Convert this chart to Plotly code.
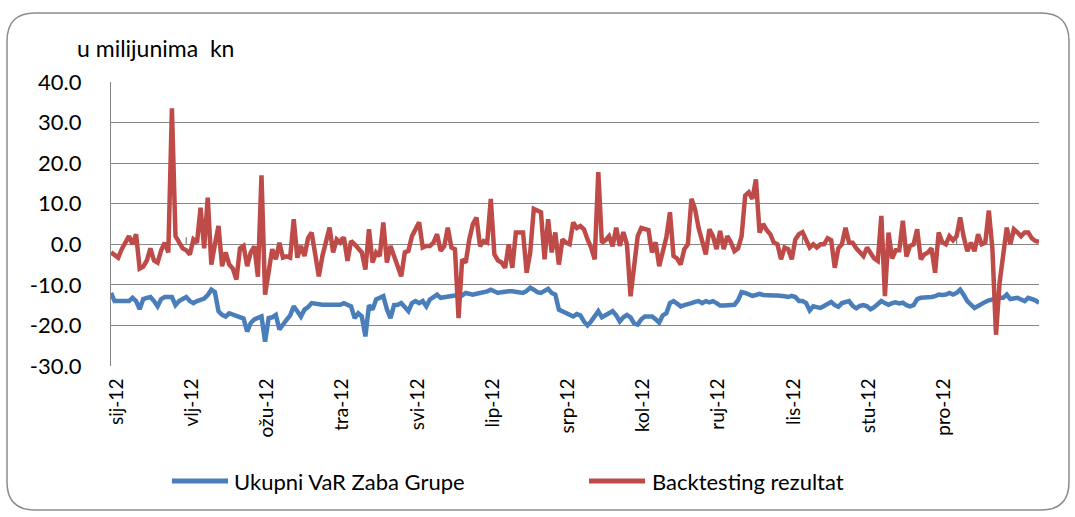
import plotly.graph_objects as go

# ---------------- data ----------------
month_labels = ["sij-12", "vlj-12", "ožu-12", "tra-12", "svi-12", "lip-12",
                "srp-12", "kol-12", "ruj-12", "lis-12", "stu-12", "pro-12"]
label_step = 21  # one month label every 21 trading days

y_tick_values = [40, 30, 20, 10, 0, -10, -20, -30]
y_tick_labels = ["40.0", "30.0", "20.0", "10.0", "0.0", "-10.0", "-20.0", "-30.0"]

var_name = "Ukupni VaR Zaba Grupe"
bt_name = "Backtesting rezultat"

var_values = [
    -12, -14, -14, -14, -14, -14, -13.2, -14, -16, -13.5, -13.2, -13, -14, -15.3, -13.5, -13, -13, -13, -15, -14,
    -13.5, -13, -14, -14.5, -14, -13.6, -13.4, -12.5, -11.2, -11.8, -16.5, -17.4, -17.8, -17, -17.4, -17.8, -18.2,
    -18.3, -21.5, -19.4, -18.5, -18.2, -17.8, -24,
    -18.2, -18, -17.4, -21, -20, -18.6, -17.5, -15.3, -16.5, -17.8, -16.1, -15.5, -14.5, -14.7, -14.9, -14.9, -14.9,
    -14.9, -14.9, -14.9, -14.9, -14.5, -14.8, -15.3, -18.2, -17, -17.8, -22.7, -15, -16.1, -13.6, -13.2, -12.8, -16,
    -18.2, -15, -14.9, -14.5, -15.5, -16.5, -14.5, -14, -14.5,
    -14, -15.3, -13.6, -13, -12.4, -13.2, -13, -12.8, -12.8, -12.6, -12.6, -12.6, -12, -12.2, -12.4, -12.2, -12, -12,
    -11.6, -11.2, -11.5, -12, -11.8, -11.6, -11.6, -11.6, -11.8, -12, -12, -11.5, -10.7, -11.2, -11.8, -12, -11.5,
    -11, -12, -12.4, -16.1, -16.5, -16.9, -17.2, -17.8,
    -17.2, -17.5, -19, -20, -19, -17.5, -16.5, -18, -17.5, -17, -16.5, -17.5, -19, -18, -17.4, -18, -19.5, -19.8,
    -18.5, -17.8, -17.8, -17.8, -18.5, -19.3, -17.5, -17, -14.5, -14, -14.6, -15.3, -15, -14.6, -14.5, -14.2, -14,
    -14.5, -14, -14.3, -14, -14.5, -15.1, -15.1, -15.1,
    -15, -14.9, -13.8, -11.8, -12, -12.4, -12.7, -12.5, -12.2, -12.5, -12.6, -12.6, -12.6, -12.6, -12.6, -12.8, -13,
    -12.7, -13, -14, -14, -14.5, -16.3, -15.3, -15.5, -15.7, -15.2, -14.6, -14.2, -15, -15.4, -14.5, -14.3, -14,
    -15.2, -15.8, -15.2, -15, -15.3, -16, -15.5, -14.9, -14,
    -14.5, -14.9, -14.5, -14.3, -14.6, -14.4, -15, -15.3, -15, -13.5, -13.2, -13.2, -13.2, -13, -12.8, -12.4, -12.5,
    -12.4, -12, -12.4, -12, -11.2, -12.5, -14, -14.9, -15.7, -15.2, -14.6, -14.2, -13.8, -13.6, -13.2, -13.2, -13.2,
    -12.4, -13.5, -13.3, -13.2, -13.6, -14, -13.2, -13.4, -13.8, -14.5,
]

bt_values = [
    -2, -2.5, -3.3, -1.2, 0.5, 2, 0, 2.5, -6, -5.5, -4, -1, -4, -4.5, -1.5, 0.4, -2, 33.5, 2, 0.5, -1, -1.5, -2.5,
    1.2, 0.4, 9, -1, 11.5, -5, 0, 4.5, -5.4, -2, -5, -6, -8.7, -1, -0.4, -5.4, -2, -0.5, -8, 17, -12.4,
    -6.2, -1.2, -3.7, 0.4, -3.3, -3, -3.3, 6.2, -3.3, -0.4, -2.9, 1.5, 2.9, -2, -7.9, -2.9, 0.4, 4.1, -2, 1.2, 0.4,
    1.7, -4.1, 0.8, 0, -1.2, -2, -6.2, 3.7, -4.5, -2, -2.9, 5.4, -4.5, -0.4, -2.9, -5.4, -7.9, -2, -1.6, 2, 3.5, 5.4,
    -0.8, -0.4, -0.4, 0.4, 2.5, -1.6, -0.5, 4.1, -0.8, -1.2, -18.2, -3.7, -4.5, 1.2, 5, 6.6, -0.5, 0.8, 0.4, 11.2,
    -2.5, -4, -4.5, -5.8, 0, -5.8, 2.9, 2.9, 2.9, -7, -2, 8.7, 8.3, 7.9, -3.7, 6.2, -2, 2.9, -5, 1.2, 0.4, 0, 5.4,
    4, 4.5, 3.7, 1.2, -0.8, -3.7, 17.8, 0.4, 1, 2, -0.5, 4.1, -0.4, 3, 0, -12.8, -5.4, 2, 4, 3.8, 3.5, -2, 0.5, -5.4,
    -1.2, 1.7, 7.9, -2.9, -3.5, -5, -1.2, 0, 11.2, 8.7, 4, 1.2, -2.5, 3.7, 2, -1.2, 3.3, -1.2, 2,
    0.5, -1.7, -1, 2, 12, 12.8, 11.2, 16, 2.9, 5, 3.5, 2.5, 0.4, 0, -3.7, -0.8, -1.2, -3.7, 1.2, 2.5, 3, 1.2, -0.8,
    0, -0.8, 0, 0, 1.5, 1, -5.8, -1, 0, 4.1, 0.4, 0.4, -1, -2, -2.9, -0.8, -2.3, -3.5, -4.1, 7,
    -12.8, 2.9, -3.5, -1.5, -1.5, 5.8, -3, -0.4, 0, 3.7, -3.7, -2.5, -2, -1, -7, 2.9, 0.5, 0, 2, 1, 2, 6.6, 1.7,
    -1.7, 0.4, -1.7, 2.5, 0, 0.4, 8.3, -1.2, -22.3, -9.5, -2, 4.1, 0, 3.7, 2.9, 2, 2.9, 2.9, 1.5, 0.8, 0.6,
]

# ---------------- styling ----------------
BLUE = "#4A7EBB"
RED = "#BE4B48"
GRID = "#868686"
FONT = "Lato"
W, H = 1075, 517
L, R, T, B = 111, 36, 82, 151
PW, PH = W - L - R, H - T - B

def px(xp):
    return (xp - L) / PW

def py(yp):
    return (H - B - yp) / PH

n = len(bt_values)
x_idx = list(range(n))
label_offset = 1.5
tick_pos = [label_offset + k * label_step for k in range(len(month_labels))]
zero_axis_ticks = list(range(label_step, n, 43))

fig = go.Figure()
fig.add_trace(go.Scatter(x=x_idx, y=var_values, mode="lines", name=var_name,
                         line=dict(color=BLUE, width=4.5), showlegend=False))
fig.add_trace(go.Scatter(x=x_idx, y=bt_values, mode="lines", name=bt_name,
                         line=dict(color=RED, width=4.5), showlegend=False))

shapes = []
# rounded outer chart border
l0, r0, t0, b0, rad = 7, 1069, 13, 510, 28
path = (f"M {px(l0+rad)},{py(t0)} L {px(r0-rad)},{py(t0)} Q {px(r0)},{py(t0)} {px(r0)},{py(t0+rad)} "
        f"L {px(r0)},{py(b0-rad)} Q {px(r0)},{py(b0)} {px(r0-rad)},{py(b0)} "
        f"L {px(l0+rad)},{py(b0)} Q {px(l0)},{py(b0)} {px(l0)},{py(b0-rad)} "
        f"L {px(l0)},{py(t0+rad)} Q {px(l0)},{py(t0)} {px(l0+rad)},{py(t0)} Z")
shapes.append(dict(type="path", xref="paper", yref="paper", path=path,
                   line=dict(color="#8C8C8C", width=1.5), layer="below"))
# tick marks on the category axis crossing at zero
for k in zero_axis_ticks:
    shapes.append(dict(type="line", xref="x", yref="y", ysizemode="pixel", yanchor=0,
                       x0=k, x1=k, y0=0, y1=7, line=dict(color=GRID, width=1.3), layer="below"))
# legend
legend_items = [(var_name, BLUE, 172, 228, 232), (bt_name, RED, 589, 645, 650)]
annotations = []
for name, col, xs, xe, xt in legend_items:
    shapes.append(dict(type="line", xref="paper", yref="paper", x0=px(xs), x1=px(xe),
                       y0=py(481), y1=py(481), line=dict(color=col, width=5)))
    annotations.append(dict(text=name, xref="paper", yref="paper", x=px(xt), y=py(481),
                            xanchor="left", yanchor="middle", showarrow=False,
                            font=dict(family=FONT, size=22, color="#000000")))
annotations.append(dict(text="u milijunima  kn", xref="paper", yref="paper", x=px(75), y=py(48),
                        xanchor="left", yanchor="middle", showarrow=False,
                        font=dict(family=FONT, size=23, color="#000000")))

fig.update_layout(
    width=W, height=H,
    margin=dict(l=L, r=R, t=T, b=B, autoexpand=False),
    paper_bgcolor="white", plot_bgcolor="white",
    font=dict(family=FONT, color="#000000"),
    shapes=shapes, annotations=annotations,
    showlegend=False,
)
fig.update_xaxes(range=[0, n - 1], tickvals=tick_pos, ticktext=month_labels, tickangle=-90,
                 ticks="outside", ticklen=4, tickcolor="rgba(0,0,0,0)",
                 showgrid=False, zeroline=False, showline=False,
                 tickfont=dict(family=FONT, size=19, color="#000000"))
fig.update_yaxes(range=[-30, 40], tickvals=y_tick_values, ticktext=y_tick_labels,
                 showgrid=True, gridcolor=GRID, gridwidth=1.3,
                 showline=True, linecolor=GRID, linewidth=1.3, zeroline=False,
                 ticks="outside", ticklen=24, tickcolor="rgba(0,0,0,0)",
                 tickfont=dict(family=FONT, size=22, color="#000000"))

fig.write_html("out.html", config={"displayModeBar": False},
               post_script="document.body.style.margin='0';document.body.style.overflow='hidden';")
